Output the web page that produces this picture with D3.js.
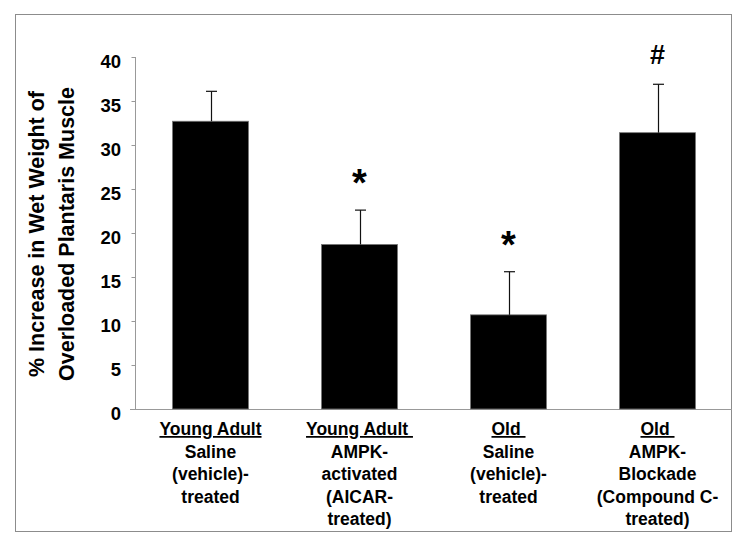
<!DOCTYPE html>
<html>
<head>
<meta charset="utf-8">
<script src="https://cdn.jsdelivr.net/npm/d3@7"></script>
<style>
  html, body { margin: 0; padding: 0; background: #fff; }
  svg text { font-family: "Liberation Sans", Arial, sans-serif; font-weight: bold; fill: #000; }
</style>
</head>
<body>
<svg id="chart" width="750" height="546"></svg>
<script>
// ---- data ----
const categories = ["YA Saline", "YA AICAR", "Old Saline", "Old Compound C"];
const categoryLines = [
  ["Young Adult", "Saline", "(vehicle)-", "treated"],
  ["Young Adult\u00a0", "AMPK-", "activated", "(AICAR-", "treated)"],
  ["Old\u00a0", "Saline", "(vehicle)-", "treated"],
  ["Old\u00a0", "AMPK-", "Blockade", "(Compound C-", "treated)"]
];
const means = [32.7, 18.7, 10.7, 31.4];
const errors = [3.4, 3.9, 4.9, 5.5];
const marks = ["", "*", "*", "#"];
const yTicks = [0, 5, 10, 15, 20, 25, 30, 35, 40];
const yTitleLines = ["% Increase in Wet Weight of", "Overloaded Plantaris Muscle"];

// ---- layout ----
const svg = d3.select("#chart");
svg.append("rect").attr("x", 15.5).attr("y", 14.5).attr("width", 716).attr("height", 517)
  .attr("fill", "#fff").attr("stroke", "#8c8c8c").attr("stroke-width", 1);

const x = d3.scaleBand().domain(categories).range([136, 732])
  .paddingInner(0.49).paddingOuter(0.245);
const y = d3.scaleLinear().domain([0, 40]).range([409, 57]);

// y axis
const yAxis = d3.axisLeft(y).tickValues(yTicks).tickSize(4).tickFormat("");
const gy = svg.append("g").attr("transform", "translate(135.5,0)").call(yAxis);
gy.select(".domain").attr("stroke", "#999").attr("d", `M0,${y(40)}V${y(0)}`);
gy.selectAll(".tick line").attr("stroke", "#999");
svg.append("g").selectAll("text").data(yTicks).join("text")
  .attr("x", 121).attr("y", d => y(d) + 11)
  .attr("text-anchor", "end").style("font-size", "18.5px")
  .text(d => d);

// x axis line
svg.append("line").attr("x1", 130).attr("x2", 732).attr("y1", y(0) + 0.5).attr("y2", y(0) + 0.5)
  .attr("stroke", "#999");

// bars
svg.append("g").selectAll("rect").data(categories).join("rect")
  .attr("x", d => x(d)).attr("width", x.bandwidth())
  .attr("y", (d, i) => y(means[i])).attr("height", (d, i) => y(0) - y(means[i]))
  .attr("fill", "#000").attr("stroke", "#777").attr("stroke-width", 0.8);

// error bars (upper only)
const eg = svg.append("g").attr("stroke", "#111").attr("stroke-width", 1.2);
categories.forEach((c, i) => {
  const cx = Math.round(x(c) + x.bandwidth() / 2) + 0.5;
  const top = y(means[i] + errors[i]);
  eg.append("line").attr("x1", cx).attr("x2", cx).attr("y1", y(means[i])).attr("y2", top);
  eg.append("line").attr("x1", cx - 5.5).attr("x2", cx + 5.5).attr("y1", top).attr("y2", top);
});

// significance marks
categories.forEach((c, i) => {
  if (!marks[i]) return;
  const cx = x(c) + x.bandwidth() / 2;
  const top = y(means[i] + errors[i]);
  const isStar = marks[i] === "*";
  svg.append("text").attr("x", cx).attr("y", isStar ? top - 14 : top - 20)
    .attr("text-anchor", "middle").style("font-size", isStar ? "38px" : "27px")
    .text(marks[i]);
});

// category labels
categories.forEach((c, i) => {
  const cx = x(c) + x.bandwidth() / 2;
  const t = svg.append("text").attr("text-anchor", "middle").style("font-size", "17.5px")
    .style("white-space", "pre");
  categoryLines[i].forEach((line, j) => {
    const ts = t.append("tspan").attr("x", cx).attr("y", 435 + j * 22.5).text(line);
    if (j === 0) ts.style("text-decoration", "underline");
  });
});

// y title
const yt = svg.append("text").attr("transform", "translate(0,234) rotate(-90)")
  .attr("text-anchor", "middle").style("font-size", "21.5px");
yTitleLines.forEach((line, j) => {
  yt.append("tspan").attr("x", 0).attr("y", 44 + j * 30).text(line);
});
</script>
</body>
</html>
